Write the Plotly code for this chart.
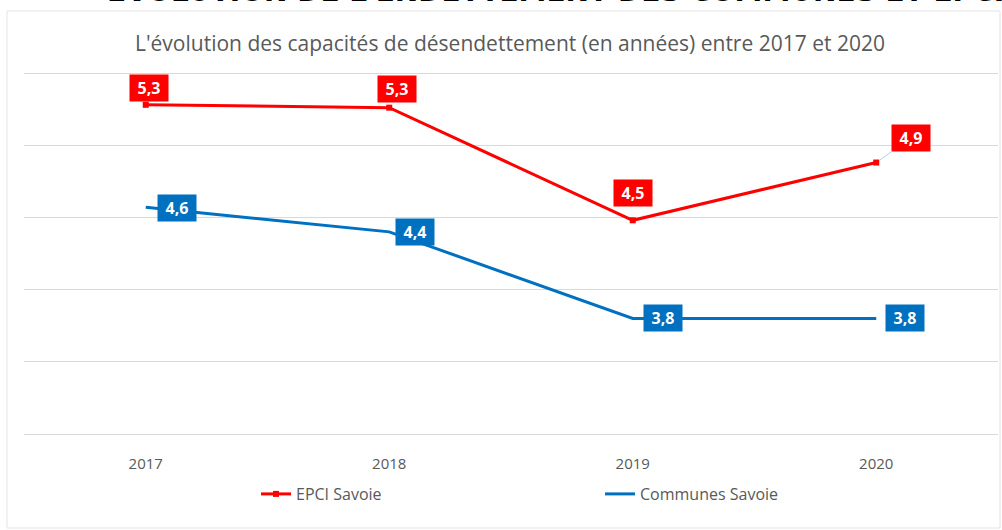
import plotly.graph_objects as go

years = ["2017", "2018", "2019", "2020"]
epci = [5.28, 5.26, 4.48, 4.88]
communes = [4.57, 4.40, 3.80, 3.80]
series_names = ["EPCI Savoie", "Communes Savoie"]
title_top = "ÉVOLUTION DE L'ENDETTEMENT DES COMMUNES ET EPCI"
subtitle = "L'évolution des capacités de désendettement (en années) entre 2017 et 2020"

RED = "#FF0000"
BLUE = "#0070C0"
GREY = "#595959"
FONT = "Open Sans"

# plot-area geometry (pixels)
L, R, T, B = 24, 4, 71, 96
PW, PH = 1002 - L - R, 530 - T - B

def px(xpix):
    return (xpix - L) / PW

def py(ypix):
    return (530 - B - ypix) / PH

fig = go.Figure()
fig.add_trace(go.Scatter(x=years, y=epci, name=series_names[0], mode="lines+markers",
                         line=dict(color=RED, width=3),
                         marker=dict(symbol="square", size=6, color=RED)))
fig.add_trace(go.Scatter(x=years, y=communes, name=series_names[1], mode="lines",
                         line=dict(color=BLUE, width=3)))

def fmt(v):
    return f"{v:.1f}".replace(".", ",")

# data labels (offsets in pixels); x uses the category index
red_shift = [(3, 17), (8, 19), (0, 27), None]
blue_shift = [(31, -1), (26, 0), (30, 0), (29, 0)]
lab_font = dict(family=FONT, size=16, color="white")
box = dict(width=30, height=18, borderpad=4)
for i, v in enumerate(epci):
    if red_shift[i] is None:
        fig.add_annotation(x=i, y=v, text=f"<b>{fmt(v)}</b>", showarrow=True,
                           ax=35, ay=-25, arrowhead=0, arrowwidth=0.8,
                           arrowcolor="#9DC3E6", standoff=4,
                           bgcolor=RED, font=lab_font, **box)
    else:
        dx, dy = red_shift[i]
        fig.add_annotation(x=i, y=v, text=f"<b>{fmt(v)}</b>", showarrow=False,
                           xshift=dx, yshift=dy, bgcolor=RED, font=lab_font, **box)
for i, v in enumerate(communes):
    dx, dy = blue_shift[i]
    fig.add_annotation(x=i, y=v, text=f"<b>{fmt(v)}</b>", showarrow=False,
                       xshift=dx, yshift=dy, bgcolor=BLUE, font=lab_font, **box)

# titles
fig.add_annotation(xref="paper", yref="paper", x=px(105), y=py(10),
                   xanchor="left", yanchor="bottom", showarrow=False,
                   text=f"<b>{title_top}</b>",
                   font=dict(family="DejaVu Sans", size=28, color="black"))
fig.add_annotation(xref="paper", yref="paper", x=px(510), y=py(43),
                   xanchor="center", yanchor="middle", showarrow=False,
                   text=subtitle, font=dict(family=FONT, size=21, color=GREY))

# chart border
fig.add_shape(type="rect", xref="paper", yref="paper",
              x0=px(7), x1=px(1000), y0=py(528), y1=py(11),
              line=dict(color="#E3E3E3", width=1), fillcolor="rgba(0,0,0,0)", layer="below")

fig.update_layout(
    width=1002, height=530, autosize=False,
    margin=dict(l=L, r=R, t=T, b=B, autoexpand=False),
    paper_bgcolor="white", plot_bgcolor="white",
    font=dict(family=FONT, color=GREY),
    showlegend=True,
    legend=dict(orientation="h", x=px(256), xanchor="left",
                y=py(494), yanchor="middle",
                entrywidth=299, entrywidthmode="pixels",
                font=dict(family=FONT, size=16, color=GREY)),
    xaxis=dict(type="category", range=[-0.5, 3.5], showgrid=False, zeroline=False,
               showline=True, linecolor="#D9D9D9", linewidth=1,
               ticks="outside", ticklen=16, tickcolor="rgba(0,0,0,0)",
               tickfont=dict(family=FONT, size=15, color=GREY)),
    yaxis=dict(range=[3, 5.514], tick0=3, dtick=0.5, showgrid=True, gridcolor="#D9D9D9",
               gridwidth=1, zeroline=False, showticklabels=False, showline=False),
)

fig.write_html("out.html")
